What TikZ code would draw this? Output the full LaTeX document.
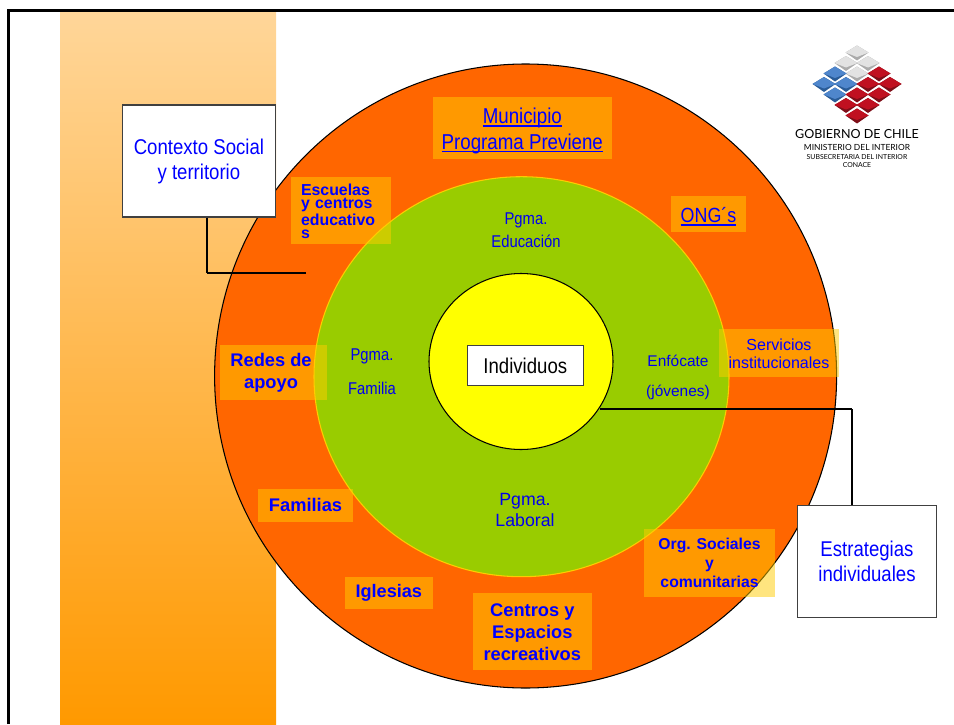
\documentclass[tikz,border=0pt]{standalone}
\usepackage{fontspec}
\setmainfont{Liberation Sans}
\newfontfamily\narrowfont{Liberation Sans}[FakeStretch=0.87]
\newfontfamily\logofont{Lato}
\definecolor{ringorange}{HTML}{FF6600}
\definecolor{ringgreen}{HTML}{99CC00}
\definecolor{ringyellow}{HTML}{FFFF00}
\definecolor{boxfill}{HTML}{FFCC00}
\definecolor{striptop}{HTML}{FFD699}
\definecolor{stripbottom}{HTML}{FF9900}
\definecolor{lblue}{HTML}{0000FF}
\definecolor{pblue}{HTML}{0000EE}
\definecolor{greylight}{HTML}{E2E2E2}
\definecolor{greydark}{HTML}{ABABAB}
\definecolor{bluelight}{HTML}{4F86CC}
\definecolor{bluedark}{HTML}{2A5C98}
\definecolor{redlight}{HTML}{C01020}
\definecolor{reddark}{HTML}{7E0E18}
\def\px{0.025cm}
\newcommand{\fsz}[2]{\fontsize{#1}{#2}\selectfont}
\newcommand{\ulined}[1]{\setbox0\hbox{#1}\rlap{\rule[-2.1pt]{\wd0}{1pt}}\box0}
\tikzset{
	labelbox/.style={fill=boxfill,fill opacity=0.5,text opacity=1,text=lblue,inner sep=0pt,align=center},
	whitebox/.style={draw=black!75,line width=0.75pt,fill=white,inner sep=0pt,align=center},
	pgmlabel/.style={text=pblue,inner sep=0pt,align=center},
	logotext/.style={text=black,inner sep=0pt,anchor=base},
	linea/.style={line width=0.75pt,black}
}
\begin{document}
\begin{tikzpicture}[x=\px,y=-\px]
	\useasboundingbox (0,0) rectangle (954,724);
	
	\shade [top color=striptop,bottom color=stripbottom] (60,12) rectangle (276,724);
	\draw [line width=1.9pt,black] (8.7,724) -- (8.7,10.7) -- (954,10.7);
	
	\coordinate (ctxbend) at (207,273);
	\coordinate (ctxend) at (306,273);
	\coordinate (estbend) at (852,409);
	\coordinate (estend) at (600,409);
	
	\draw [line width=0.75pt,black,fill=ringorange] (525.6,376) ellipse (311 and 312);
	\draw [line width=0.75pt,boxfill,fill=ringgreen] (521.5,376.7) ellipse (207.5 and 200);
	\draw [linea] (estend) -- (estbend);
	\draw [line width=0.75pt,black,fill=ringyellow] (521,361.5) ellipse (92 and 88);
	
	% labels on the rings
	\node[labelbox,minimum width=178.7*\px,minimum height=61.7*\px,font=\narrowfont\fsz{15.3}{18}] (municipio) at (522.3,127.8) {\rule{0pt}{15.6pt}\ulined{Municipio}\\\ulined{Programa Previene}};
	\node[labelbox,minimum width=99.7*\px,minimum height=66.7*\px,text width=80*\px,align=left,font=\bfseries\fsz{11.3}{9.8}] (escuelas) at (341,210.3) {\rule{0pt}{9.6pt}Escuelas\\y centros\\educativo\\s};
	\node[labelbox,minimum width=75*\px,minimum height=35.7*\px,font=\narrowfont\fsz{14.6}{17.8}] (ongs) at (708.5,213.8) {\rule{0pt}{14.7pt}\ulined{ONG´s}};
	\node[labelbox,minimum width=120*\px,minimum height=47.7*\px,font=\fsz{11.4}{13.2}] (servicios) at (779,352.8) {\rule{0pt}{9.6pt}Servicios\\institucionales};
	\node[labelbox,minimum width=107*\px,minimum height=54.7*\px,font=\bfseries\fsz{13}{15.6}] (redes) at (273.5,372.3) {Redes de\hspace*{3.5pt}\\apoyo\hspace*{3.5pt}};
	\node[labelbox,minimum width=95*\px,minimum height=32.7*\px,font=\bfseries\fsz{13}{16}] (familias) at (305.5,505.3) {Familias};
	\node[labelbox,minimum width=87.7*\px,minimum height=31.7*\px,font=\bfseries\fsz{12.9}{15}] (iglesias) at (388.8,592.8) {Iglesias};
	\node[labelbox,minimum width=118.7*\px,minimum height=76.7*\px,font=\bfseries\fsz{13}{15.6}] (centros) at (532.3,631.3) {\rule{0pt}{10.8pt}Centros y\\Espacios\\recreativos};
	\node[labelbox,minimum width=131*\px,minimum height=67.7*\px,font=\bfseries\fsz{11.2}{13.6}] (org) at (709.5,562.8) {Org. Sociales\\y\\comunitarias};
	
	% programas
	\node[pgmlabel,font=\narrowfont\fsz{12.1}{16.4}] (educacion) at (526,230) {Pgma.\\Educación};
	\node[pgmlabel,font=\narrowfont\fsz{12.1}{24.2}] (familia) at (372,372) {Pgma.\\Familia};
	\node[pgmlabel,font=\fsz{11}{21.3}] (enfocate) at (678,377) {Enfócate\\(jóvenes)};
	\node[pgmlabel,font=\fsz{12.6}{15.6}] (laboral) at (525,510) {Pgma.\\Laboral};
	
	\node[whitebox,minimum width=116*\px,minimum height=40.3*\px,font=\narrowfont\fsz{15.2}{18}] (individuos) at (525.3,365.2) {\rule{0pt}{12pt}Individuos};
	
	\draw [linea] (ctxend) -- (ctxbend);
	\node[whitebox,text=lblue,minimum width=153.7*\px,minimum height=112*\px,font=\narrowfont\fsz{15.2}{17.8}] (contexto) at (198.9,161) {Contexto Social\\y territorio};
	\draw [linea] (contexto.south -| ctxbend) -- (ctxbend);
	\node[whitebox,text=lblue,minimum width=138.6*\px,minimum height=111.7*\px,font=\narrowfont\fsz{15.2}{18.1}] (estrategias) at (867,561.2) {Estrategias\\individuales};
	\draw [linea] (estrategias.north -| estbend) -- (estbend);
	
	% logo
	\foreach \a/\b in {0/0,-1/1,1/1,0/2} {
		\begin{scope}[shift={(857+11*\a,52.5+10.5*\b)}]
			\fill[greydark] (-11.5,0) -- (0,-7) -- (11.5,0) -- (0,8) -- cycle;
			\fill[greylight] (-11.5,0) -- (0,-7) -- (11.5,0) -- (0,4.5) -- cycle;
		\end{scope}
	}
	\foreach \a/\b in {-2/2,-3/3,-1/3,-2/4} {
		\begin{scope}[shift={(857+11*\a,52.5+10.5*\b)}]
			\fill[bluedark] (-11.5,0) -- (0,-7) -- (11.5,0) -- (0,8) -- cycle;
			\fill[bluelight] (-11.5,0) -- (0,-7) -- (11.5,0) -- (0,4.5) -- cycle;
		\end{scope}
	}
	\foreach \a/\b in {2/2,3/3,1/3,2/4,0/4,-1/5,1/5,0/6} {
		\begin{scope}[shift={(857+11*\a,52.5+10.5*\b)}]
			\fill[reddark] (-11.5,0) -- (0,-7) -- (11.5,0) -- (0,8) -- cycle;
			\fill[redlight] (-11.5,0) -- (0,-7) -- (11.5,0) -- (0,4.5) -- cycle;
		\end{scope}
	}
	\node[logotext,font=\logofont\fsz{8.9}{10}] (gobierno) at (857,138) {GOBIERNO DE CHILE};
	\node[logotext,font=\logofont\fsz{6}{7}] (ministerio) at (857,150.7) {MINISTERIO DEL INTERIOR};
	\node[logotext,font=\logofont\fsz{4.9}{6}] (subsecretaria) at (857,159) {SUBSECRETARIA DEL INTERIOR};
	\node[logotext,font=\logofont\fsz{4.9}{6}] (conace) at (857,167) {CONACE};
\end{tikzpicture}
\end{document}
